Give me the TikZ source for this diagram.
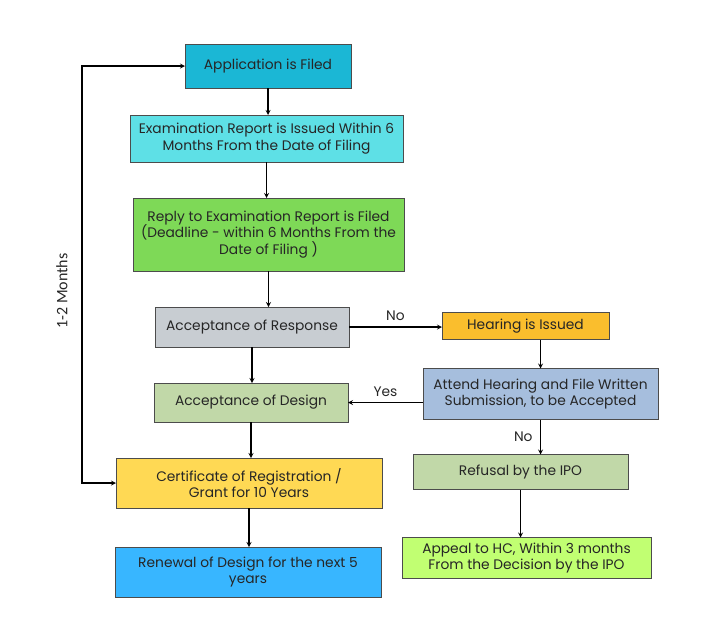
\documentclass[tikz,border=0pt]{standalone}
\usepackage{fontspec}
\setmainfont{Poppins}
\newfontfamily\sidefont{Carlito}
\usepackage{xcolor}
\usepackage{tikz}
\usetikzlibrary{shapes,arrows,positioning,calc}

\definecolor{appcyan}{RGB}{27,183,213}
\definecolor{examcyan}{RGB}{94,224,230}
\definecolor{replygreen}{RGB}{126,217,87}
\definecolor{respgray}{RGB}{200,205,210}
\definecolor{hearorange}{RGB}{250,190,45}
\definecolor{attendblue}{RGB}{166,190,221}
\definecolor{sagegreen}{RGB}{193,216,168}
\definecolor{certyellow}{RGB}{255,217,84}
\definecolor{renewblue}{RGB}{56,182,255}
\definecolor{appeallime}{RGB}{193,255,114}

\begin{document}
\begin{tikzpicture}[
  x=1pt, y=1pt,
  node distance=36pt,
  stage/.style={rectangle, draw=black!70, line width=0.8pt, outer sep=0pt, align=center, inner sep=2pt, text=black!85, font=\fontsize{13.8}{16.6}\selectfont},
  arrow/.style={->, line width=1.2pt, >=stealth},
  tag/.style={font=\fontsize{13.8}{15}\selectfont, text=black!85}
]
  \useasboundingbox (0,0) rectangle (711,-641);

  \node[stage, fill=appcyan, minimum width=166pt, minimum height=44pt] (app) at (268,-66) {Application is Filed};
  \node[stage, fill=examcyan, minimum width=273pt, minimum height=47pt, below=27pt of app, xshift=-1.5pt] (exam) {Examination Report is Issued Within 6\\Months From the Date of Filing};
  \node[stage, fill=replygreen, minimum width=271pt, minimum height=73pt, below=of exam, xshift=2pt] (reply) {Reply to Examination Report is Filed\\(Deadline - within 6 Months From the\\Date of Filing )};
  \node[stage, fill=respgray, minimum width=194pt, minimum height=40pt, below=of reply, xshift=-16.5pt] (accresp) {Acceptance of Response};
  \node[stage, fill=sagegreen, minimum width=194pt, minimum height=39pt, below=of accresp, xshift=-1pt] (accdes) {Acceptance of Design};
  \node[stage, fill=certyellow, minimum width=266pt, minimum height=50pt, below=of accdes, xshift=-2pt] (cert) {Certificate of Registration /\\Grant for 10 Years};
  \node[stage, fill=renewblue, minimum width=266pt, minimum height=50pt, below=39pt of cert, xshift=-1pt] (renew) {Renewal of Design for the next 5\\years};

  \node[stage, fill=hearorange, minimum width=167pt, minimum height=27pt, right=93pt of accresp, yshift=1pt] (hearing) {Hearing is Issued};
  \node[stage, fill=attendblue, minimum width=235pt, minimum height=51pt, below=29pt of hearing, xshift=15pt] (attend) {Attend Hearing and File Written\\Submission, to be Accepted};
  \node[stage, fill=sagegreen, minimum width=215pt, minimum height=35pt, below=35pt of attend, xshift=-20pt] (refusal) {Refusal by the IPO};
  \node[stage, fill=appeallime, minimum width=249pt, minimum height=41pt, below=48pt of refusal, xshift=6pt] (appeal) {Appeal to HC, Within 3 months\\From the Decision by the IPO};

  \coordinate[left=103pt of app] (loop);
  \node[rotate=90, font=\sidefont\fontsize{16}{18}\selectfont, text=black!85] (months) at (62,-291) {1-2 Months};

  \draw[arrow] (app.south) -- (app.south |- exam.north);
  \draw[arrow] (exam.south) -- (exam.south |- reply.north);
  \draw[arrow] (reply.south) -- (reply.south |- accresp.north);
  \draw[arrow] (accresp.south) -- (accresp.south |- accdes.north);
  \draw[arrow] (accdes.south) -- (accdes.south |- cert.north);
  \draw[arrow] (cert.south) -- (cert.south |- renew.north);
  \draw[arrow] (accresp.east) -- node[tag, midway, above=2pt] {No} (accresp.east -| hearing.west);
  \draw[arrow] (attend.north |- hearing.south) -- (attend.north);
  \draw[arrow] (attend.west |- accdes.east) -- node[tag, midway, above=2pt] {Yes} (accdes.east);
  \draw[arrow] (attend.south) -- node[tag, midway, left=4pt] {No} (attend.south |- refusal.north);
  \draw[arrow] (refusal.south) -- (refusal.south |- appeal.north);
  \draw[arrow, <->] (cert.west) -| (loop) -- (app.west);
\end{tikzpicture}
\end{document}
